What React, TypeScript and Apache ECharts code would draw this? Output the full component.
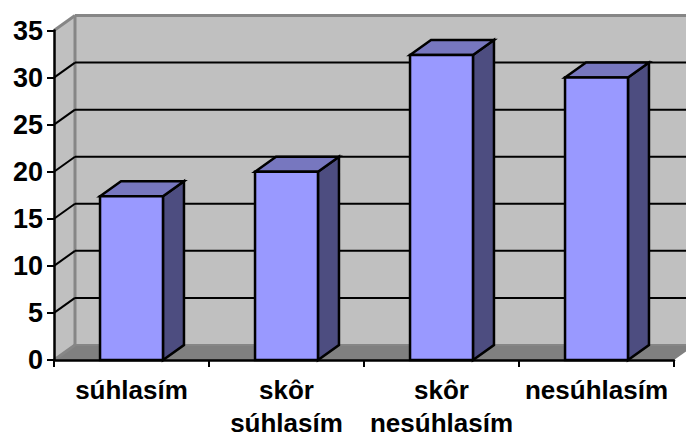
import React, { useEffect, useRef } from "react";
import * as echarts from "echarts";

const categories = ["súhlasím", "skôr\nsúhlasím", "skôr\nnesúhlasím", "nesúhlasím"];
const values = [17.4, 20, 32.4, 30];
const yTicks = [0, 5, 10, 15, 20, 25, 30, 35];

// Oblique projection of the box depth and the share of a category band a bar fills.
const DEPTH_X = 21;
const DEPTH_Y = 15;
const BAR_SHARE = 0.406;

const WALL = "#C0C0C0";
const WALL_EDGE = "#868686";
const FLOOR = "#808080";
const BAR_FRONT = "#9999FF";
const BAR_TOP = "#7777BF";
const BAR_SIDE = "#4D4D80";
const INK = "#000000";
const FONT = '"Liberation Sans", Arial, sans-serif';

const poly = (points: number[][], fill: string, stroke?: string, lineWidth = 0) => ({
  type: "polygon",
  shape: { points },
  style: { fill, stroke: stroke ?? "none", lineWidth, lineJoin: "miter" },
});

const seg = (x1: number, y1: number, x2: number, y2: number, stroke: string, lineWidth: number) => ({
  type: "line",
  shape: { x1, y1, x2, y2 },
  style: { stroke, lineWidth },
});

// Back wall, side wall and floor of the box.
const renderRoom = (params: any, api: any) => {
  const cs = params.coordSys;
  const left = cs.x;
  const right = cs.x + cs.width;
  const bottom = cs.y + cs.height;
  const top = cs.y;
  return {
    type: "group",
    children: [
      poly(
        [
          [left + DEPTH_X, top - DEPTH_Y],
          [right + DEPTH_X, top - DEPTH_Y],
          [right + DEPTH_X, bottom - DEPTH_Y],
          [left + DEPTH_X, bottom - DEPTH_Y],
        ],
        WALL,
      ),
      poly(
        [
          [left, top],
          [left + DEPTH_X, top - DEPTH_Y],
          [left + DEPTH_X, bottom - DEPTH_Y],
          [left, bottom],
        ],
        WALL,
      ),
      poly(
        [
          [left, bottom],
          [right, bottom],
          [right + DEPTH_X, bottom - DEPTH_Y],
          [left + DEPTH_X, bottom - DEPTH_Y],
        ],
        FLOOR,
      ),
      seg(left + DEPTH_X, top - DEPTH_Y, right + DEPTH_X, top - DEPTH_Y, WALL_EDGE, 3),
      seg(left + DEPTH_X, top - DEPTH_Y, left + DEPTH_X, bottom - DEPTH_Y, WALL_EDGE, 3),
      seg(left + DEPTH_X, bottom - DEPTH_Y, right + DEPTH_X, bottom - DEPTH_Y, WALL_EDGE, 2),
    ],
  };
};

// One gridline per tick: a slant across the side wall, then across the back wall.
const renderGridline = (params: any, api: any) => {
  const cs = params.coordSys;
  const v = api.value(1);
  const y = api.coord([0, v])[1];
  const left = cs.x;
  const right = cs.x + cs.width;
  const outer = v === 0 || v === yTicks[yTicks.length - 1];
  const children: any[] = [seg(left, y, left + DEPTH_X, y - DEPTH_Y, outer ? WALL_EDGE : INK, outer ? 3 : 2)];
  if (!outer) {
    children.push(seg(left + DEPTH_X, y - DEPTH_Y, right + DEPTH_X, y - DEPTH_Y, INK, 2));
  }
  return { type: "group", children };
};

// A bar as three faces of a box.
const renderBar = (params: any, api: any) => {
  const [cx, yTop] = api.coord([api.value(0), api.value(1)]);
  const yBase = api.coord([api.value(0), 0])[1];
  const w = api.size([1, 0])[0] * BAR_SHARE;
  const x0 = cx - w / 2;
  const x1 = cx + w / 2;
  return {
    type: "group",
    children: [
      poly(
        [
          [x1, yTop],
          [x1 + DEPTH_X, yTop - DEPTH_Y],
          [x1 + DEPTH_X, yBase - DEPTH_Y],
          [x1, yBase],
        ],
        BAR_SIDE,
        INK,
        2.5,
      ),
      poly(
        [
          [x0, yTop],
          [x0 + DEPTH_X, yTop - DEPTH_Y],
          [x1 + DEPTH_X, yTop - DEPTH_Y],
          [x1, yTop],
        ],
        BAR_TOP,
        INK,
        2.5,
      ),
      poly(
        [
          [x0, yTop],
          [x1, yTop],
          [x1, yBase],
          [x0, yBase],
        ],
        BAR_FRONT,
        INK,
        2.5,
      ),
    ],
  };
};

export default function App() {
  const ref = useRef<HTMLDivElement>(null);

  useEffect(() => {
    const chart = echarts.init(ref.current!, undefined, { renderer: "svg" });
    chart.setOption({
      animation: false,
      backgroundColor: "#FFFFFF",
      grid: { left: 54, right: 12, top: 30.5, bottom: 72, containLabel: false, outerBoundsMode: "none" },
      xAxis: {
        type: "category",
        data: categories,
        z: 10,
        axisLine: { lineStyle: { color: INK, width: 2.5 } },
        axisTick: { show: true, length: 7, lineStyle: { color: INK, width: 2 } },
        axisLabel: {
          color: INK,
          fontFamily: FONT,
          fontWeight: "bold",
          fontSize: 26,
          lineHeight: 33,
          margin: 13,
          interval: 0,
        },
        splitLine: { show: false },
      },
      yAxis: {
        type: "value",
        min: 0,
        max: 35,
        interval: 5,
        z: 10,
        axisLine: { show: true, lineStyle: { color: INK, width: 2.5 } },
        axisTick: { show: true, length: 7, lineStyle: { color: INK, width: 2 } },
        axisLabel: {
          color: INK,
          fontFamily: FONT,
          fontWeight: "bold",
          fontSize: 27,
          margin: 11,
        },
        splitLine: { show: false },
      },
      series: [
        {
          type: "custom",
          renderItem: renderRoom,
          data: [[0, 0]],
          encode: { x: 0, y: 1 },
          z: 1,
          silent: true,
        },
        {
          type: "custom",
          renderItem: renderGridline,
          data: yTicks.map((t) => [0, t]),
          encode: { x: 0, y: 1 },
          z: 2,
          silent: true,
        },
        {
          type: "custom",
          renderItem: renderBar,
          data: values.map((v, i) => [i, v]),
          encode: { x: 0, y: 1 },
          z: 3,
        },
      ],
    });
    return () => chart.dispose();
  }, []);

  return <div ref={ref} style={{ position: "fixed", left: 0, top: 0, width: 686, height: 432 }} />;
}
